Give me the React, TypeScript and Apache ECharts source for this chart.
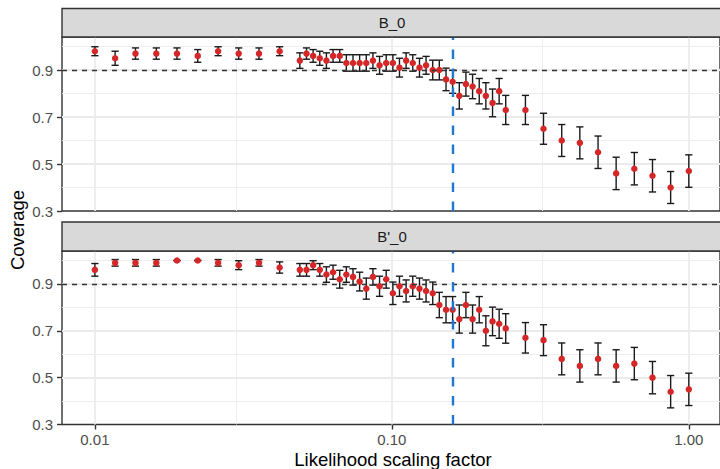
import React, { useEffect, useRef } from "react";
import * as echarts from "echarts";

// Likelihood scaling factor (x), shared by both facets
const scalingFactor = [
  0.01, 0.0117, 0.0137, 0.0161, 0.0189, 0.0222, 0.026, 0.0305, 0.0357, 0.0419,
  0.049, 0.0516, 0.05431, 0.05719, 0.06021, 0.06339, 0.06675, 0.07027, 0.074, 0.0779,
  0.08202, 0.08636, 0.09091, 0.09572, 0.1008, 0.1061, 0.1117, 0.1176, 0.1239, 0.1304,
  0.1373, 0.1445, 0.1522, 0.1602, 0.1687, 0.1776, 0.187, 0.1969, 0.2073, 0.2183,
  0.2298, 0.2418,
  0.2817, 0.3241, 0.3733, 0.4296, 0.4947, 0.5692, 0.6554, 0.7546, 0.8686, 1.0,
];

// Facet B_0
const coverageB0 = [
  0.98, 0.95, 0.97, 0.97, 0.97, 0.96, 0.98, 0.97, 0.97, 0.98,
  0.94, 0.97, 0.96, 0.95, 0.94, 0.96, 0.96, 0.93, 0.93, 0.93,
  0.93, 0.94, 0.92, 0.93, 0.93, 0.91, 0.94, 0.93, 0.91, 0.92,
  0.9, 0.9, 0.86, 0.85, 0.79, 0.84, 0.83, 0.81, 0.79, 0.76,
  0.81, 0.73,
  0.73, 0.65, 0.6, 0.59, 0.55, 0.46, 0.48, 0.45, 0.4, 0.47,
];
const halfWidthB0 = [
  0.019, 0.03, 0.024, 0.024, 0.024, 0.027, 0.019, 0.024, 0.024, 0.019,
  0.033, 0.024, 0.027, 0.03, 0.033, 0.027, 0.027, 0.035, 0.035, 0.035,
  0.035, 0.033, 0.038, 0.035, 0.035, 0.04, 0.033, 0.035, 0.04, 0.038,
  0.042, 0.042, 0.048, 0.049, 0.056, 0.051, 0.052, 0.054, 0.056, 0.059,
  0.054, 0.062,
  0.062, 0.066, 0.068, 0.068, 0.069, 0.069, 0.069, 0.069, 0.068, 0.069,
];

// Facet B'_0
const coverageBp0 = [
  0.96, 0.99, 0.99, 0.99, 1.0, 1.0, 0.99, 0.98, 0.99, 0.97,
  0.96, 0.96, 0.98, 0.96, 0.94, 0.95, 0.92, 0.94, 0.93, 0.91,
  0.88, 0.93, 0.89, 0.92, 0.86, 0.89, 0.87, 0.89, 0.88, 0.87,
  0.86, 0.81, 0.79, 0.79, 0.75, 0.81, 0.75, 0.79, 0.7, 0.74,
  0.73, 0.71,
  0.67, 0.66, 0.58, 0.55, 0.58, 0.55, 0.56, 0.5, 0.44, 0.45,
];
const halfWidthBp0 = [
  0.027, 0.014, 0.014, 0.014, 0.0, 0.0, 0.014, 0.019, 0.014, 0.024,
  0.027, 0.027, 0.019, 0.027, 0.033, 0.03, 0.038, 0.033, 0.035, 0.04,
  0.045, 0.035, 0.043, 0.038, 0.048, 0.043, 0.047, 0.043, 0.045, 0.047,
  0.048, 0.054, 0.056, 0.056, 0.06, 0.054, 0.06, 0.056, 0.064, 0.061,
  0.062, 0.063,
  0.065, 0.066, 0.068, 0.069, 0.068, 0.069, 0.069, 0.069, 0.069, 0.069,
];

const facetLabels = ["B_0", "B'_0"];
const yTickValues = [0.3, 0.5, 0.7, 0.9];
const yMinorValues = [0.4, 0.6, 0.8, 1.0];
const xMajorValues = [0.01, 0.1, 1];
const xMinorValues = [0.031623, 0.31623];
const targetCoverage = 0.9;
const referenceScale = 0.1565;
const xAxisTitle = "Likelihood scaling factor";
const yAxisTitle = "Coverage";

const FONT = "'Liberation Sans', Arial, Helvetica, sans-serif";
const GRID_LEFT = 62;
const GRID_WIDTH = 660;
const PANELS = [
  { top: 37, height: 174, stripY: 8.5, stripH: 28.5 },
  { top: 251, height: 173.5, stripY: 222, stripH: 29 },
];
const X_MIN = 0.00775;
const X_MAX = 1.2735;
const Y_MIN = 0.3;
const Y_MAX = 1.0405;

export default function App() {
  const ref = useRef<HTMLDivElement>(null);

  useEffect(() => {
    if (!ref.current) return;
    const chart = echarts.init(ref.current, undefined, { renderer: "svg" });

    const panelsData = [
      { cov: coverageB0, hw: halfWidthB0 },
      { cov: coverageBp0, hw: halfWidthBp0 },
    ];

    const grids = PANELS.map((p) => ({
      left: GRID_LEFT,
      top: p.top,
      width: GRID_WIDTH,
      height: p.height,
      show: true,
      backgroundColor: "#ffffff",
      borderColor: "#333333",
      borderWidth: 1.4,
      containLabel: false,
    }));

    const xAxes = PANELS.map((_, i) => ({
      type: "log",
      logBase: 10,
      gridIndex: i,
      min: X_MIN,
      max: X_MAX,
      axisLine: { show: false },
      splitLine: { show: false },
      axisTick: {
        show: i === 1,
        length: 5,
        lineStyle: { color: "#333333", width: 1.4 },
      },
      axisLabel: {
        show: i === 1,
        showMinLabel: false,
        showMaxLabel: false,
        margin: 7,
        color: "#4d4d4d",
        fontSize: 15,
        fontFamily: FONT,
        formatter: (v: number) => {
          const l = Math.log10(v);
          if (Math.abs(l - Math.round(l)) < 1e-6) return Math.pow(10, Math.round(l)).toFixed(2);
          return "";
        },
      },
    }));

    const yAxes = PANELS.map((_, i) => ({
      type: "value",
      gridIndex: i,
      min: Y_MIN,
      max: Y_MAX,
      interval: 0.2,
      axisLine: { show: false },
      splitLine: { show: false },
      axisTick: {
        show: true,
        length: 5,
        customValues: yTickValues,
        lineStyle: { color: "#333333", width: 1.4 },
      },
      axisLabel: {
        customValues: yTickValues,
        margin: 9,
        color: "#4d4d4d",
        fontSize: 15,
        fontFamily: FONT,
        formatter: (v: number) => v.toFixed(1),
      },
    }));

    const series: any[] = [];
    panelsData.forEach((pd, i) => {
      const gridLines: any[] = [];
      yMinorValues.forEach((v) => gridLines.push({ yAxis: v, lineStyle: { width: 0.9 } }));
      yTickValues
        .filter((v) => v > Y_MIN)
        .forEach((v) => gridLines.push({ yAxis: v, lineStyle: { width: 1.8 } }));
      xMinorValues.forEach((v) => gridLines.push({ xAxis: v, lineStyle: { width: 0.9 } }));
      xMajorValues.forEach((v) => gridLines.push({ xAxis: v, lineStyle: { width: 1.8 } }));

      series.push({
        type: "line",
        xAxisIndex: i,
        yAxisIndex: i,
        data: [],
        z: 1,
        silent: true,
        markLine: {
          z: 1,
          silent: true,
          symbol: ["none", "none"],
          label: { show: false },
          animation: false,
          lineStyle: { color: "#ebebeb", type: "solid" },
          emphasis: { disabled: true },
          data: gridLines,
        },
      });

      series.push({
        type: "custom",
        xAxisIndex: i,
        yAxisIndex: i,
        z: 3,
        silent: true,
        encode: { x: 0, y: [1, 2] },
        data: scalingFactor.map((x, k) => [x, pd.cov[k] - pd.hw[k], pd.cov[k] + pd.hw[k]]),
        renderItem: (_params: any, api: any) => {
          const x = api.value(0);
          const lo = api.value(1);
          const hi = api.value(2);
          const t = api.coord([x, hi]);
          const b = api.coord([x, lo]);
          const hwPx = 3.6;
          const style = { stroke: "#1a1a1a", lineWidth: 1.4 };
          return {
            type: "group",
            children: [
              { type: "line", shape: { x1: t[0], y1: t[1], x2: b[0], y2: b[1] }, style },
              { type: "line", shape: { x1: t[0] - hwPx, y1: t[1], x2: t[0] + hwPx, y2: t[1] }, style },
              { type: "line", shape: { x1: b[0] - hwPx, y1: b[1], x2: b[0] + hwPx, y2: b[1] }, style },
            ],
          };
        },
      });

      series.push({
        type: "scatter",
        xAxisIndex: i,
        yAxisIndex: i,
        z: 4,
        symbol: "circle",
        symbolSize: 6.5,
        silent: true,
        itemStyle: { color: "#d62728", opacity: 1 },
        data: scalingFactor.map((x, k) => [x, pd.cov[k]]),
      });

      series.push({
        type: "line",
        xAxisIndex: i,
        yAxisIndex: i,
        data: [],
        z: 6,
        silent: true,
        markLine: {
          z: 6,
          silent: true,
          symbol: ["none", "none"],
          label: { show: false },
          animation: false,
          emphasis: { disabled: true },
          data: [
            { yAxis: targetCoverage, lineStyle: { color: "#333333", width: 1.3, type: [5, 5] } },
            { xAxis: referenceScale, lineStyle: { color: "#1e78d2", width: 2.4, type: [9.5, 9.5] } },
          ],
        },
      });
    });

    const graphics: any[] = [];
    PANELS.forEach((p, i) => {
      graphics.push({
        type: "rect",
        shape: { x: GRID_LEFT, y: p.stripY, width: GRID_WIDTH, height: p.stripH },
        style: { fill: "#d9d9d9", stroke: "#333333", lineWidth: 1.4 },
        z: 10,
      });
      graphics.push({
        type: "text",
        x: 392,
        y: p.stripY + p.stripH / 2,
        style: {
          text: facetLabels[i],
          fill: "#1a1a1a",
          font: `15px ${FONT}`,
          align: "center",
          verticalAlign: "middle",
        },
        z: 11,
      });
    });
    graphics.push({
      type: "text",
      x: 393,
      y: 459,
      style: {
        text: xAxisTitle,
        fill: "#000000",
        font: `18.5px ${FONT}`,
        align: "center",
        verticalAlign: "middle",
      },
    });
    graphics.push({
      type: "text",
      x: 17,
      y: 230,
      rotation: Math.PI / 2,
      style: {
        text: yAxisTitle,
        fill: "#000000",
        font: `18.5px ${FONT}`,
        align: "center",
        verticalAlign: "middle",
      },
    });

    chart.setOption({
      animation: false,
      backgroundColor: "#ffffff",
      grid: grids,
      xAxis: xAxes,
      yAxis: yAxes,
      series,
      graphic: graphics,
    });

    return () => chart.dispose();
  }, []);

  return (
    <div
      ref={ref}
      style={{ position: "fixed", left: 0, top: 0, width: 720, height: 469 }}
    />
  );
}
